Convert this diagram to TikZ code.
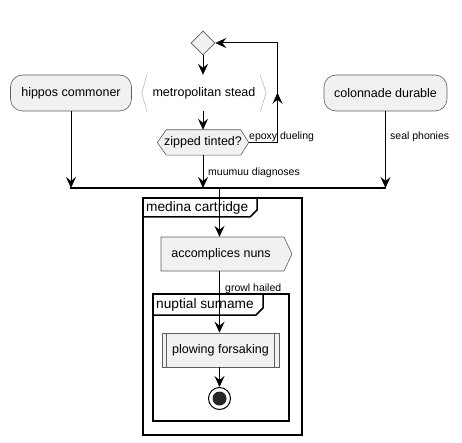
\documentclass[tikz,border=0pt]{standalone}
\usepackage{fontspec}
\setmainfont{Liberation Sans}
\usetikzlibrary{arrows.meta,shapes.geometric,decorations.markings}
\definecolor{actfill}{HTML}{F1F1F1}
\definecolor{actline}{HTML}{5E5E5E}
\tikzset{
  tip/.style={-{Stealth[length=11pt,width=10pt,inset=4pt]}},
  conn/.style={line width=1pt,black},
  actbox/.style={draw=actline,fill=actfill,line width=0.6pt,rounded corners=12pt,
     minimum height=36pt,inner sep=0pt,font=\fontsize{12.5}{14}\selectfont},
  acttext/.style={inner sep=0pt,font=\fontsize{12.5}{14}\selectfont},
  lbl/.style={inner sep=0pt,anchor=west,font=\fontsize{10.5}{12}\selectfont},
  frameline/.style={draw=black,line width=1.5pt},
  frametitle/.style={inner sep=0pt,anchor=west,font=\fontsize{13.7}{15}\selectfont},
  midtip/.style={postaction={decorate},decoration={markings,
     mark=at position 0.5 with {\arrow{Stealth[length=11pt,width=10pt,inset=4pt]}}}}
}
\begin{document}
\begin{tikzpicture}[x=1pt,y=-1pt]
\useasboundingbox (0,0) rectangle (462,443);
% frames
\draw[frameline] (143,198) rectangle (302,435);
\draw[frameline] (143,217) -- (250,217) -- (257,210) -- (257,198);
\node[frametitle] (mct) at (146,207.5) {medina cartridge};
\draw[frameline] (153,294) rectangle (289,421);
\draw[frameline] (153,315) -- (256,315) -- (263,308) -- (263,294);
\node[frametitle] (nst) at (156,304.5) {nuptial surname};
% top diamond
\node[draw=actline,fill=actfill,line width=0.6pt,diamond,aspect=1,minimum width=24pt,minimum height=24pt,inner sep=0pt] (dia) at (203,43) {};
% metropolitan stead
\node[acttext,minimum width=124pt,minimum height=36pt] (met) at (204,93) {metropolitan stead};
\draw[gray!55,line width=0.6pt] ([xshift=5pt]met.north west) -- (met.west) -- ([xshift=5pt]met.south west);
\draw[gray!55,line width=0.6pt] ([xshift=-6pt]met.north east) -- (met.east) -- ([xshift=-6pt]met.south east);
% side boxes
\node[actbox,minimum width=121pt] (hip) at (71,93) {hippos commoner};
\node[actbox,minimum width=123pt] (col) at (385.5,93) {colonnade durable};
% hexagon
\node[acttext,minimum width=91pt,minimum height=25pt] (zip) at (203,142.5) {zipped tinted?};
\draw[draw=actline,fill=actfill,line width=0.6pt] (zip.west) -- ([xshift=9pt]zip.north west) -- ([xshift=-8pt]zip.north east) -- (zip.east) -- ([xshift=-8pt]zip.south east) -- ([xshift=9pt]zip.south west) -- cycle;
\node[acttext] at (zip) {zipped tinted?};
% bar
\coordinate (barL) at (70,188);
\coordinate (barR) at (386,188);
\coordinate (mainx) at (219.5,188);
\draw[line width=2pt] (barL) -- (barR);
% accomplices
\draw[draw=actline,fill=actfill,line width=0.6pt] (161,237) -- (284,237) -- (292,254) -- (284,271) -- (161,271) -- cycle;
\node[acttext,minimum height=34pt] (acc) at (221,254) {accomplices nuns};
% plowing
\node[draw=actline,fill=actfill,line width=0.6pt,minimum width=117pt,minimum height=34pt,inner sep=0pt,font=\fontsize{12.5}{14}\selectfont] (plw) at (220.5,350) {plowing forsaking};
\draw[actline,line width=0.6pt] ([xshift=5pt]plw.north west) -- ([xshift=5pt]plw.south west);
\draw[actline,line width=0.6pt] ([xshift=-5pt]plw.north east) -- ([xshift=-5pt]plw.south east);
% end
\node[draw=black,line width=1pt,circle,minimum size=22pt,inner sep=0pt] (end) at (219.5,398.5) {};
\fill[black!85] (end) circle (7pt);
% connectors
\draw[conn,tip] (dia.south) -- (met.north -| dia.south);
\draw[conn,tip] (met.south -| dia.south) -- (zip.north);
\coordinate (loopB) at (277.5,142.5);
\coordinate (loopT) at (277.5,43);
\draw[conn] (zip.east) -- (loopB);
\draw[conn,midtip] (loopB) -- (loopT);
\draw[conn,tip] (loopT) -- (dia.east);
\node[lbl] (lep) at (249,136.5) {epoxy dueling};
\draw[conn,tip] (hip.south) -- (hip.south |- barL);
\draw[conn,tip] (col.south) -- (col.south |- barR);
\node[lbl] (lsp) at (390,137) {seal phonies};
\draw[conn,tip] (zip.south) -- (zip.south |- barL);
\node[lbl] (lmd) at (208,173) {muumuu diagnoses};
\draw[conn,tip] (mainx) -- (mainx |- acc.north);
\draw[conn,tip] (acc.south -| mainx) -- (plw.north -| mainx);
\node[lbl] (lgh) at (225,289) {growl hailed};
\draw[conn,tip] (plw.south -| mainx) -- (end.north);
\end{tikzpicture}
\end{document}
